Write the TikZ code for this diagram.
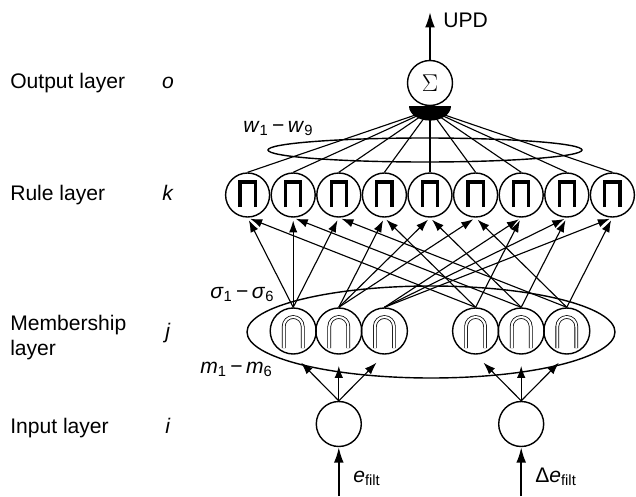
\documentclass[tikz,border=0pt]{standalone}
\usepackage{fontspec}
\setmainfont{Liberation Sans}
\usetikzlibrary{arrows.meta}

\tikzset{
  neuron/.style={circle, draw, line width=1pt, inner sep=0pt},
  rulenode/.style={neuron, minimum size=1.1cm,
    path picture={\draw[line width=2.3pt]
      ([shift={(-0.19,-0.3)}]path picture bounding box.center)
      -- ++(0,0.625) -- ++(0.38,0) -- ++(0,-0.625);}},
  memnode/.style={neuron, minimum size=1.15cm,
    path picture={\draw[double, double distance=1.5pt, line width=0.55pt]
      ([shift={(-0.2375,-0.425)}]path picture bounding box.center)
      -- ++(0,0.5375) arc[start angle=180, end angle=0, radius=0.2375]
      -- ++(0,-0.5375);}},
  conn/.style={-{Latex[length=8.5pt,width=6pt]}, line width=0.8pt, shorten >=2pt},
  bigarrow/.style={-{Latex[length=11pt,width=7pt]}, line width=1.4pt},
  lbl/.style={anchor=base west, inner sep=0pt},
  lyr/.style={anchor=base, inner sep=0pt}
}

\begin{document}
\begin{tikzpicture}[font=\fontsize{15}{18}\selectfont]

  \useasboundingbox (0,0) rectangle (15.9,12.4);

  % Layer names
  \node[lbl] (tout) at (0.25,10.175) {Output layer};
  \node[lyr] (lo) at (4.2,10.175) {\textit{o}};
  \node[lbl] (trule) at (0.25,7.4) {Rule layer};
  \node[lyr] (lk) at (4.2,7.4) {\textit{k}};
  \node[lbl] (tmem) at (0.25,4.15) {Membership};
  \node[lbl] (tmem2) at (0.25,3.525) {layer};
  \node[lyr] (lj) at (4.2,3.95) {\textit{j}};
  \node[lbl] (tin) at (0.25,1.575) {Input layer};
  \node[lyr] (li) at (4.2,1.575) {\textit{i}};

  % Output
  \node[neuron, minimum size=1.125cm] (out) at (10.75,10.325)
    {\fontsize{17}{17}\selectfont$\Sigma$};
  \coordinate (upd) at (10.75,12.1);
  \draw[bigarrow] (out.north) -- (upd);
  \node[lbl] (tupd) at (11.075,11.725) {UPD};

  % Rules
  \foreach \k/\x in {1/6.19, 2/7.33, 3/8.47, 4/9.61, 5/10.75,
                     6/11.89, 7/13.03, 8/14.17, 9/15.31}
    \node[rulenode] (r\k) at (\x,7.525) {};

  % Membership functions
  \foreach \j/\x in {1/7.33, 2/8.47, 3/9.61, 4/11.89, 5/13.03, 6/14.17}
    \node[memnode] (m\j) at (\x,4.125) {};

  % Inputs
  \node[neuron, minimum size=1.125cm] (inE) at (8.47,1.8) {};
  \node[neuron, minimum size=1.125cm] (inDE) at (13.03,1.8) {};
  \coordinate (e0) at (8.47,0);
  \coordinate (de0) at (13.03,0);
  \draw[bigarrow] (e0) -- (inE);
  \draw[bigarrow] (de0) -- (inDE);
  \node[lbl] (te) at (8.825,0.35) {\textit{e}\textsubscript{filt}};
  \node[lbl] (tde) at (13.375,0.35) {Δ\textit{e}\textsubscript{filt}};

  % input -> membership
  \foreach \j in {1,2,3}
    \draw[conn, shorten >=8pt] (inE.north) -- (m\j.south);
  \foreach \j in {4,5,6}
    \draw[conn, shorten >=8pt] (inDE.north) -- (m\j.south);

  % membership -> rules
  \foreach \a in {1,2,3}
    \foreach \b in {1,2,3} {
      \pgfmathtruncatemacro\k{3*(\a-1)+\b}
      \pgfmathtruncatemacro\c{3+\b}
      \draw[conn] (m\a.north) -- (r\k.south);
      \draw[conn] (m\c.north) -- (r\k.south);
    }

  % rules -> output
  \coordinate (hub) at (10.75,9.65);
  \foreach \k in {1,...,9}
    \draw[line width=0.8pt] (r\k.north) -- (hub);
  \fill ([xshift=-0.525cm]out.south)
    arc[start angle=180, end angle=360, x radius=0.525, y radius=0.36] -- cycle;

  % weight groups
  \draw[line width=1pt] (10.625,8.65) ellipse [x radius=3.925, y radius=0.3];
  \draw[line width=1pt] (10.775,4.1) ellipse [x radius=4.6, y radius=1.15];
  \node[lbl] (tw) at (6.075,9.1)
    {\textit{w}\textsubscript{1}\,−\,\textit{w}\textsubscript{9}};
  \node[lbl] (tsig) at (5.25,4.95)
    {\textit{σ}\textsubscript{1}\,−\,\textit{σ}\textsubscript{6}};
  \node[lbl] (tm) at (5.0,3.075)
    {\textit{m}\textsubscript{1}\,−\,\textit{m}\textsubscript{6}};

\end{tikzpicture}
\end{document}
